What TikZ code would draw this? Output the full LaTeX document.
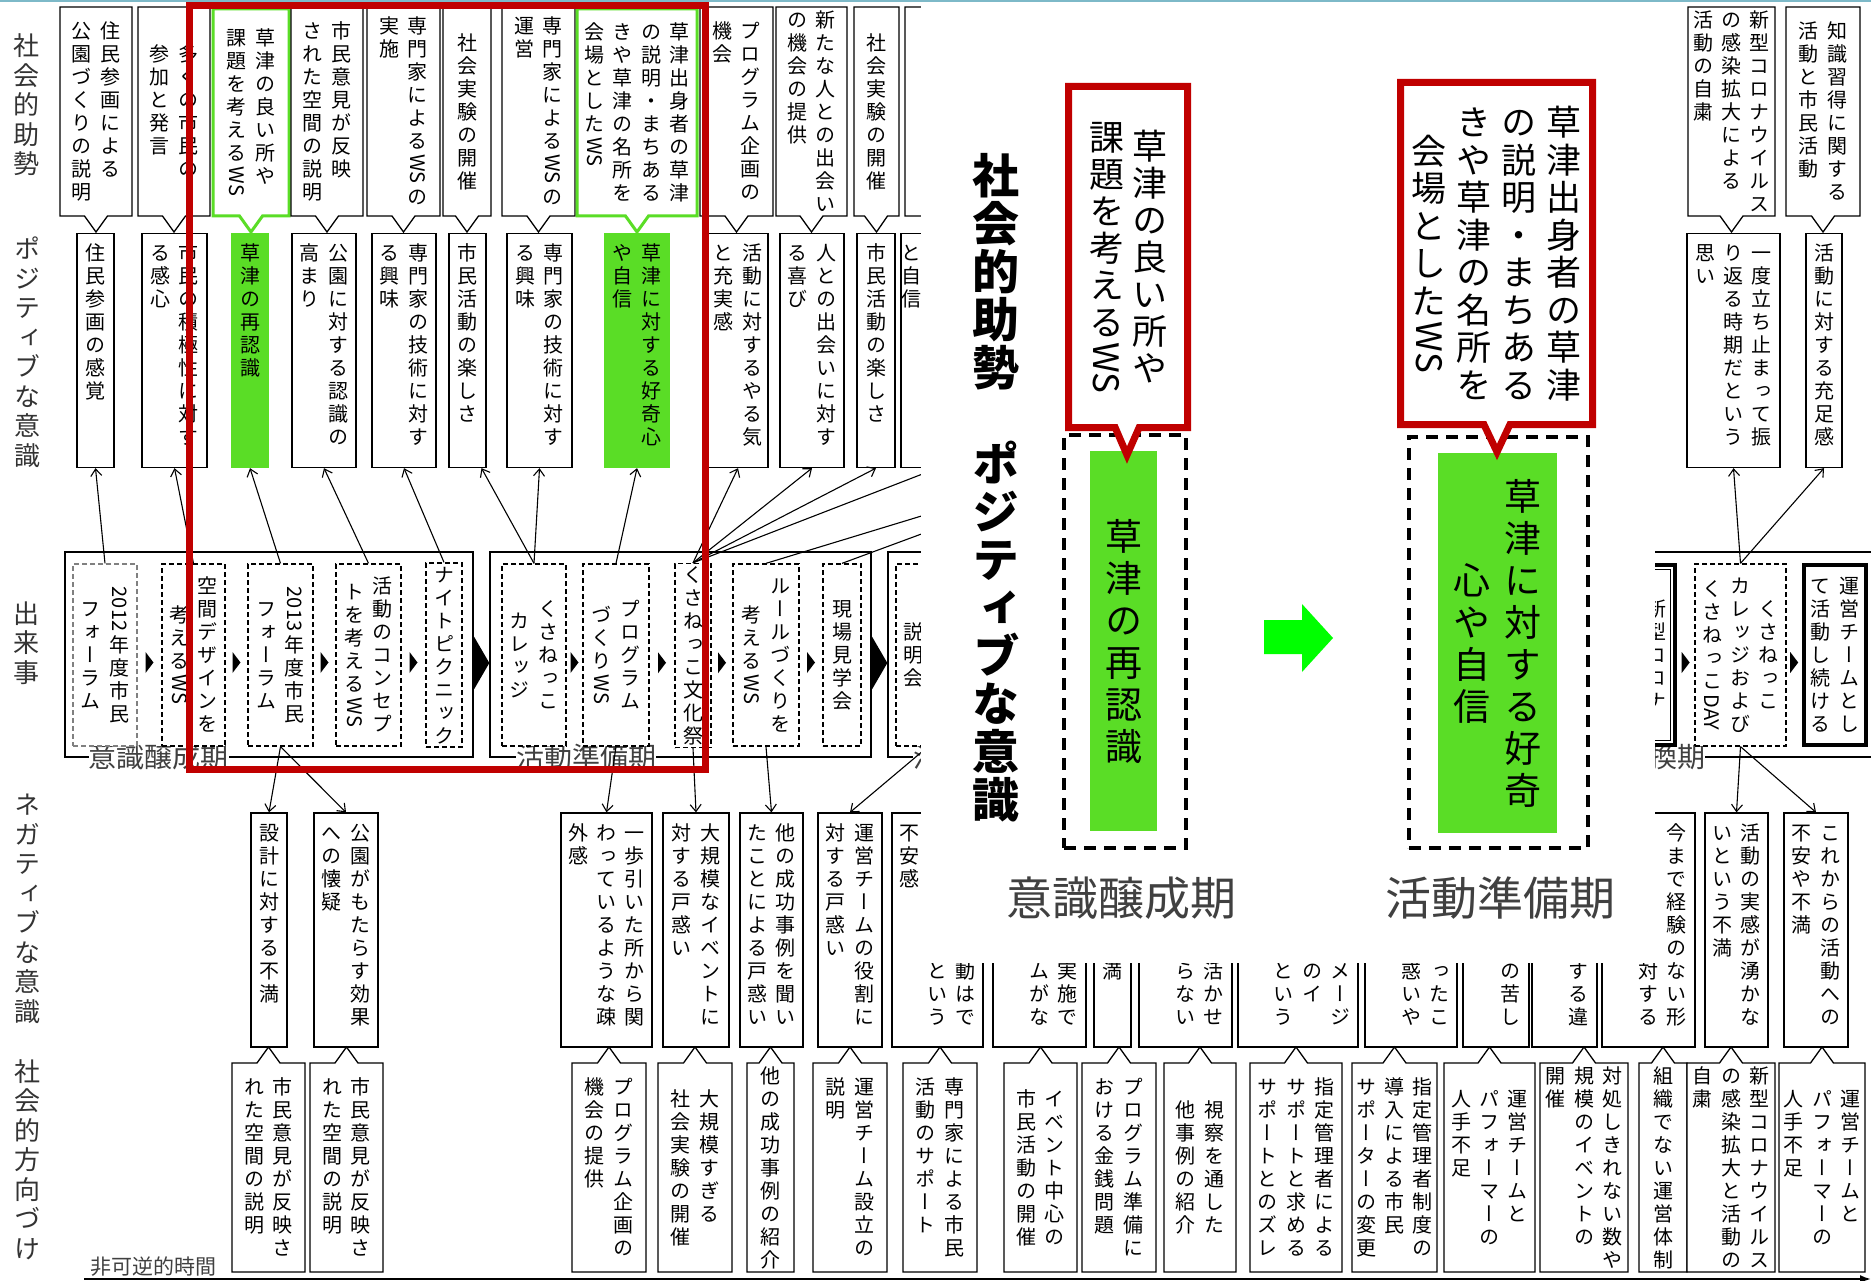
\documentclass[tikz,border=0pt]{standalone}
\usepackage{fontspec}
\usepackage{graphicx}
\setmainfont[RawFeature=+vert]{Noto Sans CJK JP}
\usetikzlibrary{arrows.meta,calc,shapes.callouts}
\definecolor{kgreen}{RGB}{90,221,38}
\definecolor{kred}{RGB}{192,0,0}
\definecolor{kteal}{RGB}{125,185,200}
\definecolor{kgray}{RGB}{64,64,64}
\definecolor{agreen}{RGB}{0,255,0}

\newdimen\tsize \newdimen\tpitch \newdimen\tgap
\newcommand\tset[3]{\fontsize{#1}{#1}\selectfont\tsize=#1pt\relax\tpitch=#2pt\relax\tgap=#3pt\relax}
\newcommand\rlat[1]{\rotatebox{-90}{#1}}
\newcommand\tbl{}
\def\tstrut{\vrule height .88\tsize depth .12\tsize width 0pt\relax}
\def\tcell#1{\setbox0=\hbox{#1}%
  \ifdim\dimexpr\ht0+\dp0\relax>1.1\tsize
    \vbox{\kern2pt\hbox to\tsize{\hss\box0\hss}\kern2pt}%
  \else
    \vbox to\tpitch{\vss\hbox to\tsize{\hss\tstrut\box0\hss}\vss}%
  \fi}
\def\tcolE{\tcolEnd}
\def\tcolA#1{\def\tcolT{#1}\ifx\tcolT\tcolE\else\tcell{#1}\expandafter\tcolA\fi}
\newcommand\tcoltop[1]{\vtop{\offinterlineskip\kern0pt\tcolA#1\tcolEnd}}
\newcommand\tcolmid[1]{$\vcenter{\offinterlineskip\tcolA#1\tcolEnd}$}
\let\tcol\tcoltop
\newcommand\vtI[1]{\tcol{#1}}
\newcommand\vtII[2]{\tcol{#2}\hskip\tgap\relax\tcol{#1}}
\newcommand\vtIII[3]{\tcol{#3}\hskip\tgap\relax\tcol{#2}\hskip\tgap\relax\tcol{#1}}
\newcommand\vtIV[4]{\tcol{#4}\hskip\tgap\relax\tcol{#3}\hskip\tgap\relax\tcol{#2}\hskip\tgap\relax\tcol{#1}}

\begin{document}
\begin{tikzpicture}[x=1pt,y=-1pt,
  tb/.style={inner sep=0pt,execute at begin node={\tset{20}{23}{8.3}}},
  tbmid/.style={inner sep=0pt,execute at begin node={\tset{20}{23}{8.3}\let\tcol\tcolmid}},
  sabox/.style={rectangle callout,draw,line width=1.3pt,fill=white,tb,minimum height=209,
    callout absolute pointer={(#1,232)},callout pointer width=23},
  sdbox/.style={rectangle callout,draw,line width=1.3pt,fill=white,tb,minimum height=209,
    callout absolute pointer={(#1,1047)},callout pointer width=23},
  pobox/.style={draw,line width=1.3pt,fill=white,tb,text height=0pt,text depth=218pt,inner ysep=8pt},
  evbox/.style={draw,line width=1.3pt,dash pattern=on 5pt off 3pt,fill=white,tbmid,minimum height=182},
  phbox/.style={draw,line width=1.3pt,minimum height=205},
  phlab/.style={fill=white,inner sep=0pt,text=kgray,font=\fontsize{28}{28}\selectfont},
  rowlab/.style={inner sep=0pt,text=black!80,execute at begin node={\tset{26}{29.5}{0}\let\tcol\tcolmid}},
  arr/.style={line width=1.1pt,-{Straight Barb[length=7pt,width=11pt]}},
  ovlab/.style={inner sep=0pt,font=\bfseries,execute at begin node={\tset{47}{48}{0}\let\tcol\tcolmid}},
  ovdash/.style={draw,line width=4pt,dash pattern=on 12pt off 8pt,inner sep=0pt},
  ovcall/.style={rectangle callout,draw=kred,line width=7pt,fill=white,inner sep=0pt},
  ovgreen/.style={fill=kgreen,inner sep=0pt,execute at begin node={\tset{37}{42}{14}\let\tcol\tcolmid}},
  ovphase/.style={inner sep=0pt,text=kgray,font=\fontsize{46}{46}\selectfont}]
\useasboundingbox (0,0) rectangle (1871,1281);

\node[rowlab] (r1) at (26,105) {\vtI{社会的助勢}};
\node[rowlab] (r2) at (27,352) {\vtI{ポジティブな意識}};
\node[rowlab] (r3) at (26,643) {\vtI{出来事}};
\node[rowlab] (r4) at (27,908) {\vtI{ネガティブな意識}};
\node[rowlab] (r5) at (27,1160) {\vtI{社会的方向づけ}};

\node[phbox,minimum width=408] (ph1) at (269,654.5) {};
\node[phbox,minimum width=381] (ph2) at (680.5,654.5) {};
\node[phbox,minimum width=692] (ph3) at (1234,654.5) {};
\node[phbox,minimum width=293] (ph4) at (1743.5,654.5) {};
\node[phlab] (lb1) at (158.5,757) {意識醸成期};
\node[phlab] (lb2) at (586,757) {活動準備期};
\node[phlab] (lb3) at (927,757) {活};
\node[phlab] (lb4) at (1663,757) {転換期};

\node[sabox=96,minimum width=72] (sa1) at (96,111.5) {\vtII{住民参画による}{公園づくりの説明}};
\node[sabox=174,minimum width=72] (sa2) at (174,111.5) {\vtII{多くの市民の}{参加と発言}};
\node[sabox=251,minimum width=76,minimum height=207,draw=kgreen,line width=3pt] (sa3) at (251,112.5) {\vtII{草津の良い所や}{課題を考える{\rlat{WS}}}};
\node[sabox=327,minimum width=72] (sa4) at (327,111.5) {\vtII{市民意見が反映}{された空間の説明}};
\node[sabox=403.5,minimum width=73] (sa5) at (403.5,111.5) {\vtII{専門家による{\rlat{WS}}の}{実施}};
\node[sabox=467,minimum width=48] (sa6) at (467,111.5) {\vtI{社会実験の開催}};
\node[sabox=538.5,minimum width=73] (sa7) at (538.5,111.5) {\vtII{専門家による{\rlat{WS}}の}{運営}};
\node[sabox=637,minimum width=120,minimum height=207,draw=kgreen,line width=3pt] (sa8) at (637,112.5) {\vtIV{草津出身者の草津}{の説明・まちある}{きや草津の名所を}{会場とした{\rlat{WS}}}};
\node[sabox=736.5,minimum width=73] (sa9) at (736.5,111.5) {\vtII{プログラム企画の}{機会}};
\node[sabox=811.5,minimum width=71] (sa10) at (811.5,111.5) {\vtII{新たな人との出会い}{の機会の提供}};
\node[sabox=876.5,minimum width=45] (sa11) at (876.5,111.5) {\vtI{社会実験の開催}};
\node[sabox=940,minimum width=70] (sa12) at (940,111.5) {};
\node[sabox=1731.5,minimum width=87] (sa13) at (1731.5,111.5) {\vtIII{新型コロナウイルス}{の感染拡大による}{活動の自粛}};
\node[sabox=1823,minimum width=74] (sa14) at (1823,111.5) {\vtII{知識習得に関する}{活動と市民活動}};

\node[pobox,minimum width=37] (po1) at (95.5,350.5) {\vtI{住民参画の感覚}};
\node[pobox,minimum width=65] (po2) at (174.5,350.5) {\vtII{市民の積極性に対す}{る感心}};
\node[pobox,minimum width=38,draw=none,fill=kgreen] (po3) at (250,350.5) {\vtI{草津の再認識}};
\node[pobox,minimum width=64] (po4) at (324,350.5) {\vtII{公園に対する認識の}{高まり}};
\node[pobox,minimum width=64] (po5) at (404,350.5) {\vtII{専門家の技術に対す}{る興味}};
\node[pobox,minimum width=37] (po6) at (467.5,350.5) {\vtI{市民活動の楽しさ}};
\node[pobox,minimum width=65] (po7) at (539.5,350.5) {\vtII{専門家の技術に対す}{る興味}};
\node[pobox,minimum width=66,draw=none,fill=kgreen] (po8) at (637,350.5) {\vtII{草津に対する好奇心}{や自信}};
\node[pobox,minimum width=60] (po9) at (738,350.5) {\vtII{活動に対するやる気}{と充実感}};
\node[pobox,minimum width=64] (po10) at (812,350.5) {\vtII{人との出会いに対す}{る喜び}};
\node[pobox,minimum width=38] (po11) at (876,350.5) {\vtI{市民活動の楽しさ}};
\node[pobox,minimum width=50] (po12) at (926,350.5) {\vtII{\tbl}{と自信}};
\node[pobox,minimum width=93] (po13) at (1733.5,350.5) {\vtIII{一度立ち止まって振}{り返る時期だという}{思い}};
\node[pobox,minimum width=36] (po14) at (1824,350.5) {\vtI{活動に対する充足感}};

\node[evbox,minimum width=64,draw=black!50] (ev1) at (105,655) {\vtII{{\rlat{2012}}年度市民}{フォーラム}};
\node[evbox,minimum width=63] (ev2) at (193.5,655) {\vtII{空間デザインを}{考える{\rlat{WS}}}};
\node[evbox,minimum width=65] (ev3) at (280.5,655) {\vtII{{\rlat{2013}}年度市民}{フォーラム}};
\node[evbox,minimum width=65] (ev4) at (368.5,655) {\vtII{活動のコンセプ}{トを考える{\rlat{WS}}}};
\node[evbox,minimum width=36] (ev5) at (444,655) {\vtI{ナイトピクニック}};
\node[evbox,minimum width=64] (ev6) at (534,655) {\vtII{くさねっこ}{カレッジ}};
\node[evbox,minimum width=66] (ev7) at (616,655) {\vtII{プログラム}{づくり{\rlat{WS}}}};
\node[evbox,minimum width=36] (ev8) at (693,655.5) {\vtI{くさねっこ文化祭}};
\node[evbox,minimum width=66] (ev9) at (766,655) {\vtII{ルールづくりを}{考える{\rlat{WS}}}};
\node[evbox,minimum width=38] (ev10) at (842,655) {\vtI{現場見学会}};
\node[evbox,minimum width=64] (ev11) at (928,655) {\vtII{\tbl}{説明会}};
\node[evbox,solid,line width=4pt,minimum width=66,minimum height=180] (ev12) at (1642,655) {\vtII{新型コロナ}{\tbl}};
\draw[line width=1.2pt] ($(ev12.north west)+(6.5,6.5)$) rectangle ($(ev12.south east)+(-6.5,-6.5)$);
\node[evbox,minimum width=91] (ev13) at (1740.5,655) {\vtIII{くさねっこ}{カレッジおよび}{くさねっこ{\rlat{DAY}}}};
\node[evbox,solid,line width=4.5pt,minimum width=62,minimum height=180] (ev14) at (1835,655) {\vtII{運営チームとし}{て活動し続ける}};

\node[pobox,minimum width=36] (ne1) at (269,930) {\vtI{設計に対する不満}};
\node[pobox,minimum width=64] (ne2) at (346,930) {\vtII{公園がもたらす効果}{への懐疑}};
\node[pobox,minimum width=91] (ne3) at (606.5,930) {\vtIII{一歩引いた所から関}{わっているような疎}{外感}};
\node[pobox,minimum width=66] (ne4) at (696,930) {\vtII{大規模なイベントに}{対する戸惑い}};
\node[pobox,minimum width=63] (ne5) at (771.5,930) {\vtII{他の成功事例を聞い}{たことによる戸惑い}};
\node[pobox,minimum width=64] (ne6) at (850,930) {\vtII{運営チームの役割に}{対する戸惑い}};
\node[pobox,minimum width=91] (ne7) at (937.5,930) {\vtIII{\tbl\tbl\tbl\tbl\tbl\tbl 動はで}{\tbl\tbl\tbl\tbl\tbl\tbl という}{不安感}};
\node[pobox,minimum width=93] (ne8) at (1039.5,930) {\vtIII{\tbl\tbl\tbl\tbl\tbl\tbl 実施で}{\tbl\tbl\tbl\tbl\tbl\tbl ムがな}{\tbl}};
\node[pobox,minimum width=37] (ne9) at (1112.5,930) {\vtI{\tbl\tbl\tbl\tbl\tbl\tbl 満}};
\node[pobox,minimum width=93] (ne10) at (1185.5,930) {\vtIII{\tbl\tbl\tbl\tbl\tbl\tbl 活かせ}{\tbl\tbl\tbl\tbl\tbl\tbl らない}{\tbl}};
\node[pobox,minimum width=120] (ne11) at (1298,930) {\vtIV{\tbl\tbl\tbl\tbl\tbl\tbl メージ}{\tbl\tbl\tbl\tbl\tbl\tbl のイ}{\tbl\tbl\tbl\tbl\tbl\tbl という}{\tbl}};
\node[pobox,minimum width=92] (ne12) at (1411,930) {\vtIII{\tbl\tbl\tbl\tbl\tbl\tbl ったこ}{\tbl\tbl\tbl\tbl\tbl\tbl 惑いや}{\tbl}};
\node[pobox,minimum width=66] (ne13) at (1496,930) {\vtII{\tbl\tbl\tbl\tbl\tbl\tbl の苦し}{\tbl}};
\node[pobox,minimum width=65] (ne14) at (1564.5,930) {\vtII{\tbl\tbl\tbl\tbl\tbl\tbl する違}{\tbl}};
\node[pobox,minimum width=93] (ne15) at (1648.5,930) {\vtIII{今まで経験のない形}{\tbl\tbl\tbl\tbl\tbl\tbl 対する}{\tbl}};
\node[pobox,minimum width=63] (ne16) at (1736.5,930) {\vtII{活動の実感が湧かな}{いという不満}};
\node[pobox,minimum width=64] (ne17) at (1816,930) {\vtII{これからの活動への}{不安や不満}};

\node[sdbox=268.5,minimum width=73] (sd1) at (268.5,1167.5) {\vtII{市民意見が反映さ}{れた空間の説明}};
\node[sdbox=346.5,minimum width=73] (sd2) at (346.5,1167.5) {\vtII{市民意見が反映さ}{れた空間の説明}};
\node[sdbox=609,minimum width=74] (sd3) at (609,1167.5) {\vtII{プログラム企画の}{機会の提供}};
\node[sdbox=695,minimum width=74] (sd4) at (695,1167.5) {\vtII{大規模すぎる}{社会実験の開催}};
\node[sdbox=770.5,minimum width=47] (sd5) at (770.5,1167.5) {\vtI{他の成功事例の紹介}};
\node[sdbox=850,minimum width=74] (sd6) at (850,1167.5) {\vtII{運営チーム設立の}{説明}};
\node[sdbox=940,minimum width=74] (sd7) at (940,1167.5) {\vtII{専門家による市民}{活動のサポート}};
\node[sdbox=1040.5,minimum width=73] (sd8) at (1040.5,1167.5) {\vtII{イベント中心の}{市民活動の開催}};
\node[sdbox=1119,minimum width=74] (sd9) at (1119,1167.5) {\vtII{プログラム準備に}{おける金銭問題}};
\node[sdbox=1200,minimum width=72] (sd10) at (1200,1167.5) {\vtII{視察を通した}{他事例の紹介}};
\node[sdbox=1296,minimum width=92] (sd11) at (1296,1167.5) {\vtIII{指定管理者による}{サポートと求める}{サポートとのズレ}};
\node[sdbox=1394.5,minimum width=85] (sd12) at (1394.5,1167.5) {\vtIII{指定管理者制度の}{導入による市民}{サポーターの変更}};
\node[sdbox=1489.5,minimum width=91] (sd13) at (1489.5,1167.5) {\vtIII{運営チームと}{パフォーマーの}{人手不足}};
\node[sdbox=1584,minimum width=88] (sd14) at (1584,1167.5) {\vtIII{対処しきれない数や}{規模のイベントの}{開催}};
\node[sdbox=1663,minimum width=48] (sd15) at (1663,1167.5) {\vtI{組織でない運営体制}};
\node[sdbox=1731,minimum width=88] (sd16) at (1731,1167.5) {\vtIII{新型コロナウイルス}{の感染拡大と活動の}{自粛}};
\node[sdbox=1822,minimum width=86] (sd17) at (1822,1167.5) {\vtIII{運営チームと}{パフォーマーの}{人手不足}};

\coordinate (hid0) at (938,468);
\coordinate (hid1) at (1079,468);
\coordinate (hid2) at (1100,468);
\draw[arr] (ev1.north) -- (po1.south);
\draw[arr] (ev2.north) -- (po2.south);
\draw[arr] (ev3.north) -- (po3.south);
\draw[arr] (ev4.north) -- (po4.south);
\draw[arr] (ev5.north) -- (po5.south);
\draw[arr] (ev6.north) -- ($(po6.south)+(14,0)$);
\draw[arr] (ev6.north) -- (po7.south);
\draw[arr] (ev7.north) -- (po8.south);
\foreach \t in {po9.south,po10.south,po11.south,hid0}
  \draw[arr] (ev8.north) -- (\t);
\draw[arr] (ev9.north) -- (hid1);
\draw[arr] (ev10.north) -- (hid2);
\draw[arr] (ev3.south) -- (ne1.north);
\draw[arr] (ev3.south) -- (ne2.north);
\draw[arr] (ev7.south) -- (ne3.north);
\draw[arr] (ev8.south) -- (ne4.north);
\draw[arr] (ev9.south) -- (ne5.north);
\draw[arr] (ev11.south) -- (ne6.north);
\draw[arr] (ev13.north) -- (po13.south);
\draw[arr] (ev13.north) -- (po14.south);
\draw[arr] (ev13.south) -- (ne16.north);
\draw[arr] (ev13.south) -- (ne17.north);

\foreach \a/\b in {ev1/ev2,ev2/ev3,ev3/ev4,ev4/ev5,ev6/ev7,ev7/ev8,ev8/ev9,ev9/ev10,ev12/ev13,ev13/ev14}
  \fill ($(\a.east)!.5!(\b.west)+(-4,-3)$) -- ++(0,21) -- ++(8,-10.5) -- cycle;
\fill ($(ph1.east)+(0,-18.5)$) -- ++(0,54) -- ($(ph2.west)+(0,8.5)$) -- cycle;
\fill ($(ph2.east)+(0,-18.5)$) -- ++(0,54) -- ($(ph3.west)+(0,8.5)$) -- cycle;

\node[inner sep=0pt,text=kgray,font=\fontsize{21}{21}\selectfont] (tl) at (153,1267) {非可逆的時間};
\draw[line width=1.8pt,-{Latex[length=11pt,width=8pt]}] (84,1279) -- (1871,1279);

\draw[kred,line width=7pt] (189,6) rectangle (705,769);

\fill[white] (921,0) rectangle (1655,963);
\node[ovlab] (ov1) at (996,272) {\vtI{社会的助勢}};
\node[ovlab] (ov2) at (996,632) {\vtI{ポジティブな意識}};
\node[ovdash,minimum width=122,minimum height=413] (ov3) at (1125,641.5) {};
\node[ovgreen,minimum width=67,minimum height=380] (ov4) at (1123.5,641) {\vtI{草津の再認識}\hspace{11pt}};
\node[ovcall,minimum width=119,minimum height=341,callout absolute pointer={(1127,455)},callout pointer width=24,
  execute at begin node={\tset{35}{37}{8}\let\tcol\tcolmid}] (ov5) at (1128,257)
  {\vtII{草津の良い所や}{課題を考える{\rlat{WS}}}\hspace{9pt}};
\fill[agreen] (1264,620) -- (1302,620) -- (1302,604) -- (1333,638) -- (1302,672) -- (1302,654) -- (1264,654) -- cycle;
\node[ovdash,minimum width=179,minimum height=411] (ov6) at (1498.5,642.5) {};
\node[ovgreen,minimum width=119,minimum height=380] (ov7) at (1497.5,643) {\vtII{草津に対する好奇}{心や自信}\hspace{10pt}};
\node[ovcall,minimum width=192,minimum height=342,callout absolute pointer={(1497,452)},callout pointer width=26,
  execute at begin node={\tset{35}{37.5}{10}\let\tcol\tcolmid}] (ov8) at (1496.5,253.5)
  {\vtIV{草津出身者の草津}{の説明・まちある}{きや草津の名所を}{会場とした{\rlat{WS}}}\hspace{14pt}};
\node[ovphase] (ov9) at (1121,898) {意識醸成期};
\node[ovphase] (ov10) at (1500,898) {活動準備期};

\draw[kteal,line width=2pt] (0,1) -- (1871,1);
\end{tikzpicture}
\end{document}
